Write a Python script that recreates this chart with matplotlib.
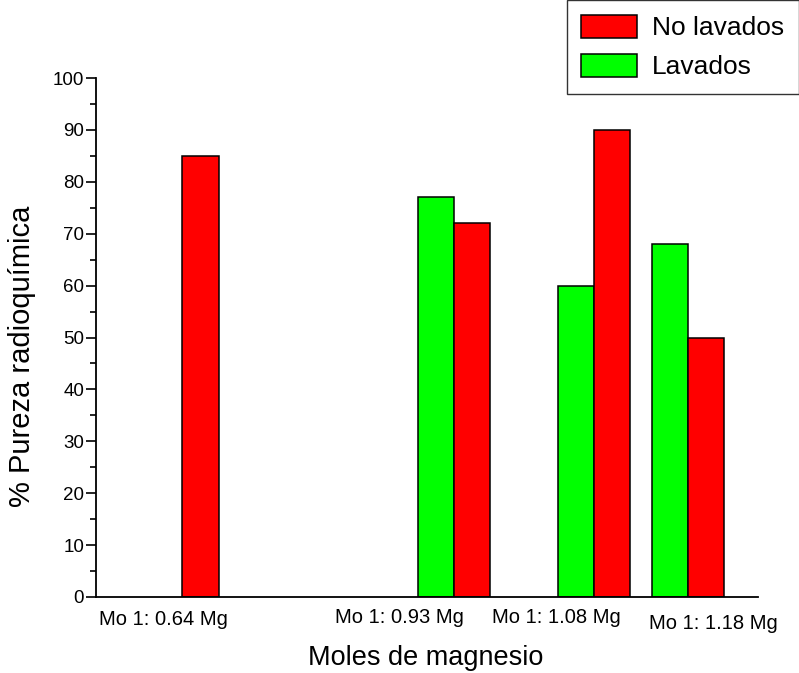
import matplotlib.pyplot as plt
import numpy as np

# molar ratio Mo:Mg used as x values
ratios = [0.64, 0.93, 1.08, 1.18]
labels = ["Mo 1: 0.64 Mg", "Mo 1: 0.93 Mg", "Mo 1: 1.08 Mg", "Mo 1: 1.18 Mg"]
no_lavados = [85, 72, 90, 50]
lavados = [np.nan, 77, 60, 68]

plt.rcParams['font.family'] = ['Liberation Sans', 'DejaVu Sans']

fig = plt.figure(figsize=(7.99, 6.73), dpi=100)
ax = fig.add_axes([0.120, 0.113, 0.829, 0.771])

w = 0.0385
x = np.array(ratios)
ax.bar(x - w / 2, lavados, width=w, color="#00ff00", edgecolor="black",
       linewidth=1.1, label="Lavados")
ax.bar(x + w / 2, no_lavados, width=w, color="#ff0000", edgecolor="black",
       linewidth=1.1, label="No lavados")

ax.set_xlim(0.5475, 1.255)
ax.set_ylim(0, 100)
ax.set_yticks(range(0, 101, 10))
ax.set_yticks(range(5, 100, 10), minor=True)
ax.tick_params(axis="y", which="major", length=7, width=1.2, labelsize=13.5,
               direction="out", pad=1.5)
ax.tick_params(axis="y", which="minor", length=4, width=1.2, direction="out")
ax.set_xticks([])

for s in ["top", "right"]:
    ax.spines[s].set_visible(False)
for s in ["left", "bottom"]:
    ax.spines[s].set_linewidth(1.3)

# category labels sit a bit off the bar groups, as in the original
label_x = [0.620, 0.872, 1.039, 1.207]
label_y = [-4.4, -3.9, -3.9, -5.2]
for lx, ly, t in zip(label_x, label_y, labels):
    ax.text(lx, ly, t, ha="center", va="center", fontsize=14.5)

fig.text(0.028, 0.471, "% Pureza radioquímica", rotation=90, ha="center",
         va="center", fontsize=21)
fig.text(0.533, 0.022, "Moles de magnesio", ha="center", va="center", fontsize=19.5)

h, l = ax.get_legend_handles_labels()
leg = fig.legend(h[::-1], l[::-1], loc="upper right", bbox_to_anchor=(1.0, 1.0),
                 fontsize=19, frameon=True, fancybox=False, edgecolor="black",
                 handlelength=2.1, handleheight=1.0, borderpad=0.55,
                 labelspacing=0.5, handletextpad=0.6, borderaxespad=0.0)
leg.get_frame().set_linewidth(1.0)

fig.savefig("out.png", dpi=100)
